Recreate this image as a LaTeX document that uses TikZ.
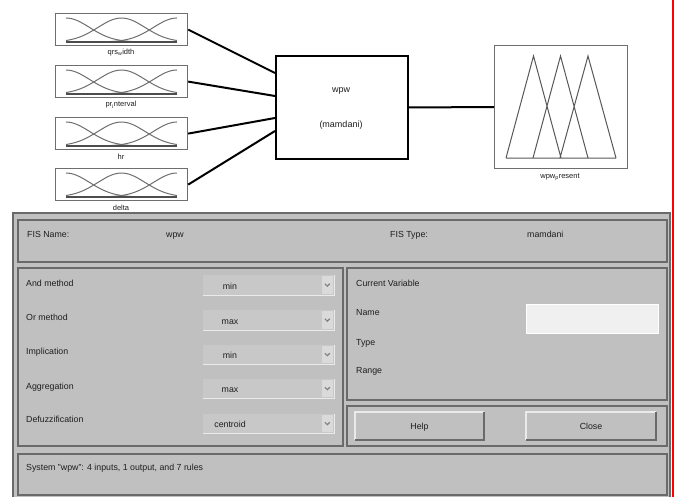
\documentclass[tikz,border=0pt]{standalone}
\usepackage{fontspec}
\setmainfont{Liberation Sans}
\usetikzlibrary{calc}
\definecolor{panel}{HTML}{C0C0C0}
\definecolor{frame}{HTML}{6A6A6A}
\definecolor{mfgray}{HTML}{6E6E6E}
\definecolor{dropbg}{HTML}{C8C8C8}
\definecolor{arrowbg}{HTML}{DADADA}
\definecolor{fieldbg}{HTML}{F0F0F0}
\definecolor{hilite}{HTML}{EAEAEA}
\definecolor{txt}{HTML}{1E1E1E}
\begin{document}
\begin{tikzpicture}[x=1pt,y=-1pt,
  every node/.style={text=txt},
  uitext/.style={font=\fontsize{8.8}{10}\selectfont, inner sep=0, anchor=base west},
  uictr/.style={font=\fontsize{8.8}{10}\selectfont, inner sep=0, anchor=base},
  lbl/.style={font=\fontsize{7.5}{9}\selectfont, inner sep=0, anchor=base},
  mfbox/.style={draw=mfgray, line width=1.2pt, fill=white, minimum width=132pt, minimum height=32pt, inner sep=0, anchor=north west},
  mfline/.style={mfgray, line width=1pt},
  conn/.style={black, line width=2pt},
  sunken/.style={draw=frame, line width=1.4pt},
  chev/.style={gray, line width=1.1pt}
]
\useasboundingbox (0,0) rectangle (676,497);
\fill[white] (0,0) rectangle (676,497);

% ---------- input membership boxes ----------
\foreach \i/\t/\name in {1/13/{qrs\textsubscript{w}idth},2/65/{pr\textsubscript{i}nterval},3/117/{hr},4/168/{delta}}{
  \node[mfbox] (in\i) at (55,\t) {};
  \draw[mfline] plot[domain=0:1,samples=40,smooth] ({66+111*\x},{\t+29-24*exp(-(\x*\x)/0.09)});
  \draw[mfline] plot[domain=0:1,samples=40,smooth] ({66+111*\x},{\t+29-24*exp(-((\x-0.5)*(\x-0.5))/0.09)});
  \draw[mfline] plot[domain=0:1,samples=40,smooth] ({66+111*\x},{\t+29-24*exp(-((\x-1)*(\x-1))/0.09)});
  \draw[mfgray!70!black, line width=1.3pt] (66,\t+29) -- (177,\t+29);
  \node[lbl] (inlbl\i) at (121,\t+42) {\name};
}

% ---------- FIS block ----------
\node[draw=black, line width=2pt, fill=white, minimum width=132pt, minimum height=103pt, inner sep=0, anchor=north west] (fis) at (275,55) {};
\node[font=\fontsize{9}{11}\selectfont, inner sep=0, anchor=base] (fisname) at (341,92.5) {wpw};
\node[font=\fontsize{9}{11}\selectfont, inner sep=0, anchor=base] (fistype) at (341,128) {(mamdani)};

\draw[conn] (in1.east) -- ($(fis.north west)+(0,18)$);
\draw[conn] (in2.east) -- ($(fis.north west)+(0,41)$);
\draw[conn] (in3.east) -- ($(fis.north west)+(0,63)$);
\draw[conn] (in4.east) -- ($(fis.north west)+(0,76)$);

% ---------- output box ----------
\node[draw=mfgray, line width=1pt, fill=white, minimum width=133pt, minimum height=123pt, inner sep=0, anchor=north west] (out) at (494,45) {};
\draw[conn] (fis.east) -- (out.west);
\draw[mfgray!80!black, line width=1pt] (506,158) -- (533.5,56) -- (561,158)
  (533,158) -- (560.5,56) -- (588,158)
  (560,158) -- (588,56) -- (616,158)
  (506,158) -- (616,158);
\node[lbl] (outlbl) at (560,178.5) {wpw\textsubscript{p}resent};

% ---------- GUI panel ----------
\fill[panel] (13,213) rectangle (670,497);
\draw[frame, line width=1.6pt] (13,497) -- (13,213) -- (670,213) -- (670,497);
\draw[red, line width=1.6pt] (673,0) -- (673,497);

\draw[sunken] (18,220) rectangle (667,262);
\node[uitext] (fnl) at (27,237.2) {FIS Name:};
\node[uitext] (fnv) at (166,237.2) {wpw};
\node[uitext] (ftl) at (390,237.2) {FIS Type:};
\node[uitext] (ftv) at (527,237.2) {mamdani};

% left method panel
\draw[sunken] (18,268) rectangle (343,446);
\foreach \k/\lab/\val/\ya/\yb/\ty in {1/And method/min/275/295/283,2/Or method/max/310/330/317,3/Implication/min/345/364/351,4/Aggregation/max/379/398/386,5/Defuzzification/centroid/414/433/419}{
  \node[uitext] (m\k) at (26,\ty+3.2) {\lab};
  \fill[dropbg] (203,\ya) rectangle (334,\yb);
  \draw[hilite, line width=0.8pt] (203,\yb) -- (334,\yb) -- (334,\ya);
  \fill[arrowbg] (321.5,\ya+1) rectangle (333,\yb-1);
  \draw[chev] (324.8,{(\ya+\yb)/2-1.3}) -- (327.3,{(\ya+\yb)/2+1.2}) -- (329.8,{(\ya+\yb)/2-1.3});
  \node[uictr] (v\k) at (230,{(\ya+\yb)/2+4}) {\val};
}

% right current variable panel
\draw[sunken] (347,268) rectangle (667,400);
\node[uitext] (cv) at (356,286.2) {Current Variable};
\node[uitext] (cvn) at (356,315.2) {Name};
\node[uitext] (cvt) at (356,345.2) {Type};
\node[uitext] (cvr) at (356,373.2) {Range};
\fill[fieldbg] (526,304) rectangle (658,333);
\draw[white, line width=0.8pt] (526,304) rectangle (658,333);

% buttons panel
\draw[sunken] (347,406) rectangle (667,446);
\foreach \b/\xa/\xb/\lab in {help/355/484/Help,close/526/656/Close}{
  \fill[panel] (\xa,412) rectangle (\xb,440);
  \draw[hilite, line width=1.2pt] (\xa,440) -- (\xa,412) -- (\xb,412);
  \draw[frame, line width=1.2pt] (\xa,440) -- (\xb,440) -- (\xb,412);
  \node[uictr] (\b) at ({(\xa+\xb)/2},429.7) {\lab};
}

% status panel
\draw[sunken] (18,454) rectangle (667,495);
\node[uitext] (status) at (26,470.2) {System "wpw": 4 inputs, 1 output, and 7 rules};
\end{tikzpicture}
\end{document}
